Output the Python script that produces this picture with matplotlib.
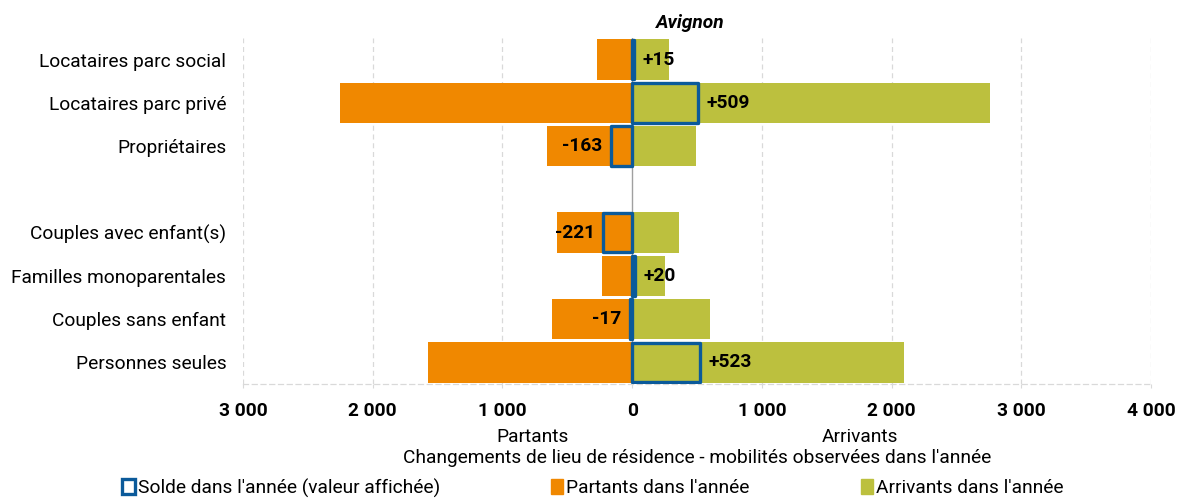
import matplotlib
matplotlib.use("Agg")
import matplotlib.pyplot as plt
from matplotlib.patches import Patch
import numpy as np

plt.rcParams['font.family'] = ['Roboto', 'DejaVu Sans']

categories = ["Locataires parc social", "Locataires parc privé", "Propriétaires", "",
              "Couples avec enfant(s)", "Familles monoparentales", "Couples sans enfant", "Personnes seules"]
partants = [268, 2251, 657, 0, 580, 236, 620, 1575]
arrivants = [283, 2760, 494, 0, 359, 256, 603, 2098]
solde = [15, 509, -163, None, -221, 20, -17, 523]
tick_values = [-3000, -2000, -1000, 0, 1000, 2000, 3000, 4000]
tick_labels = ["3 000", "2 000", "1 000", "0", "1 000", "2 000", "3 000", "4 000"]

ORANGE = "#F08800"
GREEN = "#BCC03E"
BLUE = "#0B5A9A"
FS = 13.8

W, H = 1177, 498
fig = plt.figure(figsize=(W / 100, H / 100), dpi=100)
ax = fig.add_axes([243 / W, 1 - 384 / H, (1151 - 243) / W, (384 - 38) / H])

y = np.arange(len(categories))
bh = 0.94
mask = [c != "" for c in categories]
yy = y[mask]
p = np.array(partants)[mask]
a = np.array(arrivants)[mask]
ax.barh(yy, -p, height=bh, color=ORANGE, zorder=2)
ax.barh(yy, a, height=bh, color=GREEN, zorder=2)

for yi, s in zip(y, solde):
    if s is None:
        continue
    ax.barh(yi, s, height=bh * 0.97, facecolor="none", edgecolor=BLUE,
            linewidth=2.4, joinstyle="round", zorder=4)
    label = f"+{s}" if s > 0 else f"{s}"
    if s >= 0:
        ax.annotate(label, (s, yi), xytext=(6, 0), textcoords="offset points",
                    ha="left", va="center", fontsize=13.8, fontweight="bold", zorder=5)
    else:
        ax.annotate(label, (s, yi), xytext=(-6, 0), textcoords="offset points",
                    ha="right", va="center", fontsize=13.8, fontweight="bold", zorder=5)

ax.set_xlim(-3000, 4000)
ax.set_ylim(len(categories) - 0.5, -0.5)
ax.set_yticks(y)
ax.set_yticklabels(categories, fontsize=FS)
ax.tick_params(axis="y", length=0, pad=12)
ax.set_xticks(tick_values)
ax.set_xticklabels(tick_labels, fontsize=FS, fontweight="bold")
ax.tick_params(axis="x", length=3, color="#d9d9d9", pad=10)

for v in tick_values:
    if v != 0:
        ax.axvline(v, color="#d9d9d9", linestyle=(0, (4, 3)), linewidth=0.9, zorder=0)
ax.axvline(0, color="#a0a0a0", linewidth=1.0, zorder=3)

for side in ["left", "right", "top"]:
    ax.spines[side].set_visible(False)
ax.spines["bottom"].set_color("#d9d9d9")
ax.spines["bottom"].set_linestyle((0, (4, 3)))
ax.spines["bottom"].set_linewidth(0.9)

fig.text(690 / W, 1 - 23 / H, "Avignon", ha="center", va="center",
         fontsize=FS, fontweight="bold", fontstyle="italic")
fig.text(533 / W, 1 - 437 / H, "Partants", ha="center", va="center", fontsize=FS)
fig.text(860 / W, 1 - 437 / H, "Arrivants", ha="center", va="center", fontsize=FS)
fig.text(697 / W, 1 - 458 / H, "Changements de lieu de résidence - mobilités observées dans l'année",
         ha="center", va="center", fontsize=FS)

handles = [Patch(facecolor="white", edgecolor=BLUE, linewidth=2.4),
           Patch(facecolor=ORANGE, edgecolor=ORANGE),
           Patch(facecolor=GREEN, edgecolor=GREEN)]
labels = ["Solde dans l'année (valeur affichée)", "Partants dans l'année", "Arrivants dans l'année"]
fig.legend(handles, labels, loc="center", bbox_to_anchor=(593 / W, 1 - 488 / H), ncol=3,
           frameon=False, fontsize=FS, handlelength=0.65, handleheight=0.8,
           handletextpad=0.15, columnspacing=5.8, borderaxespad=0, borderpad=0)

fig.savefig("out.png", dpi=100)
